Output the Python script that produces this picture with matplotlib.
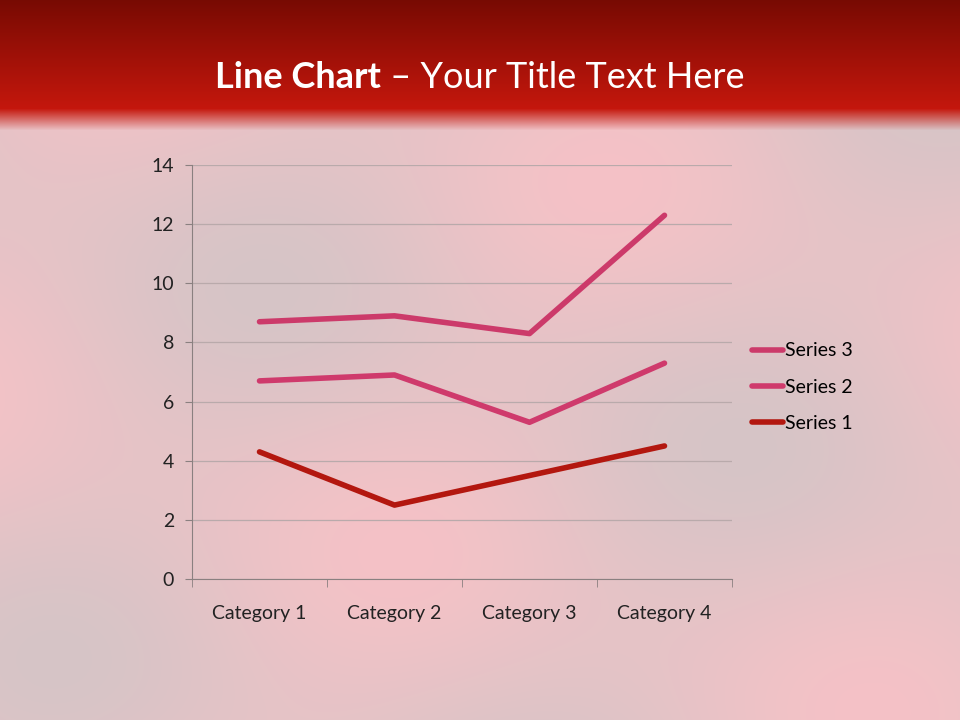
import numpy as np
import matplotlib.pyplot as plt

categories = ['Category 1', 'Category 2', 'Category 3', 'Category 4']
series1 = [4.3, 2.5, 3.5, 4.5]
series2 = [2.4, 4.4, 1.8, 2.8]
series3 = [2.0, 2.0, 3.0, 5.0]

# stacked line chart
s1 = np.array(series1)
s2 = s1 + np.array(series2)
s3 = s2 + np.array(series3)

plt.rcParams['font.family'] = ['Lato', 'DejaVu Sans']

fig = plt.figure(figsize=(9.6, 7.2), dpi=100)

# background: red header band + soft pink swirls
bg = fig.add_axes([0, 0, 1, 1])
bg.set_axis_off()
h, w = 720, 960
yy, xx = np.mgrid[0:h, 0:w]
swirl = (0.5 + 0.25 * np.sin(xx / 90.0 + yy / 160.0)
         + 0.25 * np.sin(xx / 210.0 - yy / 70.0 + 1.3))
base = np.array([0.84, 0.77, 0.78])
pink = np.array([0.96, 0.76, 0.78])
img = base[None, None, :] * (1 - swirl[..., None]) + pink[None, None, :] * swirl[..., None]
top = np.array([0.47, 0.04, 0.01])
bot = np.array([0.77, 0.09, 0.05])
t = np.clip(yy / 108.0, 0, 1)[..., None]
head = top * (1 - t) + bot * t
blend = np.clip((yy - 108) / 22.0, 0, 1)[..., None]
img = head * (1 - blend) + img * blend
bg.imshow(img, extent=[0, 1, 0, 1], aspect='auto')
bg.set_xlim(0, 1)
bg.set_ylim(0, 1)

fig.text(0.397, 0.893, 'Line Chart', color='white', fontsize=26, fontweight='bold',
         ha='right', va='center')
fig.text(0.397, 0.893, ' \u2013 Your Title Text Here', color='white', fontsize=26,
         ha='left', va='center')

ax = fig.add_axes([0.2, 0.1958, 0.5625, 0.575])
ax.patch.set_alpha(0)
x = np.arange(1, len(categories) + 1)
ax.plot(x, s1, color='#B3170F', lw=4, solid_capstyle='round', label='Series 1')
ax.plot(x, s2, color='#CF3A6C', lw=4, solid_capstyle='round', label='Series 2')
ax.plot(x, s3, color='#CC3A6A', lw=4, solid_capstyle='round', label='Series 3')

ax.set_xlim(0.5, len(categories) + 0.5)
ax.set_ylim(0, 14)
ax.set_yticks(range(0, 15, 2))
ax.set_xticks(x)
ax.set_xticklabels(categories)
ax.set_xticks(np.arange(0.5, len(categories) + 1), minor=True)
ax.tick_params(axis='x', which='major', length=0, pad=19, labelsize=14, colors='#222222')
ax.tick_params(axis='x', which='minor', length=6, color='#8a8080', direction='out')
ax.tick_params(axis='y', length=5, color='#8a8080', labelsize=14, pad=8, labelcolor='#222222')
ax.grid(axis='y', color='#b9aaab', lw=0.9)
ax.set_axisbelow(True)
for side in ['top', 'right']:
    ax.spines[side].set_visible(False)
for side in ['left', 'bottom']:
    ax.spines[side].set_color('#8a8080')

handles, labels = ax.get_legend_handles_labels()
fig.legend(handles[::-1], labels[::-1], loc='center left', bbox_to_anchor=(0.765, 0.462),
           frameon=False, fontsize=14, handlelength=1.6, handletextpad=0.1,
           labelspacing=1.0)

plt.savefig('out.png', dpi=100)
